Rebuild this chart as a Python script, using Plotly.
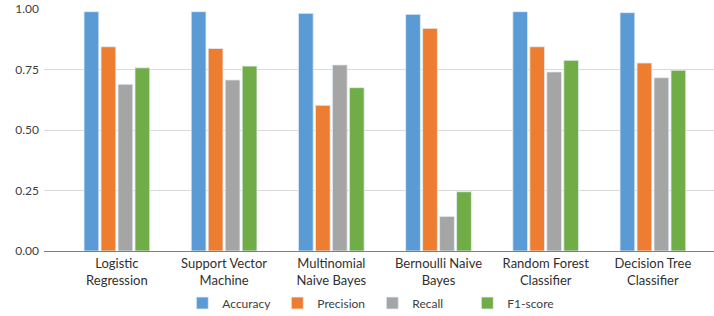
import plotly.graph_objects as go

categories = ["Logistic<br>Regression", "Support Vector<br>Machine", "Multinomial<br>Naive Bayes",
              "Bernoulli Naive<br>Bayes", "Random Forest<br>Classifier", "Decision Tree<br>Classifier"]
accuracy = [0.989, 0.989, 0.982, 0.978, 0.989, 0.985]
precision = [0.844, 0.837, 0.602, 0.920, 0.844, 0.777]
recall = [0.689, 0.707, 0.769, 0.143, 0.740, 0.716]
f1_score = [0.757, 0.764, 0.675, 0.245, 0.788, 0.747]

series = [("Accuracy", accuracy, "#5B9BD5"), ("Precision", precision, "#ED7D31"),
          ("Recall", recall, "#A5A5A5"), ("F1-score", f1_score, "#70AD47")]

FONT = "Lato, Open Sans, sans-serif"
fig = go.Figure()
for name, vals, col in series:
    fig.add_trace(go.Bar(x=list(range(len(categories))), y=vals, name=name,
                         marker=dict(color=col, line=dict(color="#e6eef7", width=0.8))))

fig.update_layout(
    width=714, height=316,
    margin=dict(l=44, r=0, t=9, b=65, autoexpand=False),
    paper_bgcolor="white", plot_bgcolor="white",
    barmode="group", bargap=0.366, bargroupgap=0.13,
    font=dict(family=FONT, size=12, color="#404040"),
    showlegend=True,
    legend=dict(orientation="h", x=0.49, xanchor="center", y=-0.215, yanchor="middle",
                font=dict(size=12, color="#404040"), itemwidth=30, traceorder="normal",
                entrywidth=50, entrywidthmode="pixels"),
    xaxis=dict(tickmode="array", tickvals=list(range(len(categories))), ticktext=categories,
               range=[-0.68, 5.57], showline=True, linecolor="#7f7f7f", linewidth=1,
               ticks="", showgrid=False, automargin=False, tickfont=dict(size=13, color="#303030")),
    yaxis=dict(range=[0, 1.0], tickvals=[0, 0.25, 0.5, 0.75, 1.0], tickformat=".2f",
               showgrid=True, gridcolor="#d9d9d9", gridwidth=1, zeroline=False,
               showline=False, ticks="", ticklabelstandoff=4, automargin=False,
               tickfont=dict(size=12, color="#404040")),
)
fig.write_html("out.html", config={"displayModeBar": False},
               post_script="document.body.style.margin='0';document.body.style.overflow='hidden';")
